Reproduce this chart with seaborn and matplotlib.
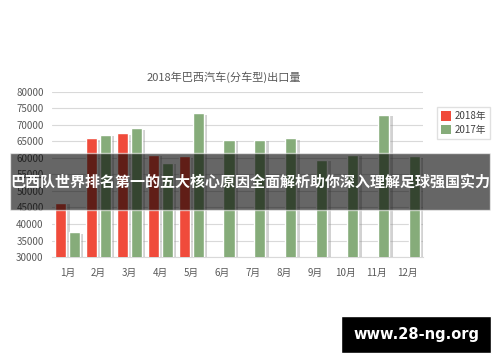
import numpy as np
import pandas as pd
import matplotlib
matplotlib.use("Agg")
import matplotlib.pyplot as plt
import matplotlib.patheffects as pe
from matplotlib.patches import Patch
import seaborn as sns

# data
months = ["1月", "2月", "3月", "4月", "5月", "6月", "7月", "8月", "9月", "10月", "11月", "12月"]
years = ["2018年", "2017年"]
colors = ["#F04B3B", "#86AC7A"]
vals_2018 = [46500, 66000, 67500, 61000, 60500, np.nan, np.nan, np.nan, np.nan, np.nan, np.nan, np.nan]
vals_2017 = [37500, 67000, 69000, 58500, 73500, 65500, 65500, 66000, 59500, 61000, 73000, 60500]
yticks = [30000, 35000, 40000, 45000, 50000, 55000, 60000, 65000, 70000, 75000, 80000]

df = pd.DataFrame({
    "month": months * 2,
    "year": [years[0]] * 12 + [years[1]] * 12,
    "value": vals_2018 + vals_2017,
})

sns.set_style("white")
plt.rcParams["font.family"] = ["Noto Sans CJK SC", "DejaVu Sans"]

fig = plt.figure(figsize=(5, 3.62), dpi=100)
ax = fig.add_axes([0.104, 0.29, 0.742, 0.456])

sns.barplot(data=df, x="month", y="value", hue="year", order=months, hue_order=years,
            palette=colors, width=0.9, gap=0.2, errorbar=None,
            saturation=1, ax=ax, zorder=3, legend=False)

# soft drop shadow like the original chart
for p in ax.patches:
    p.set_path_effects([pe.SimplePatchShadow(offset=(2.5, -1), shadow_rgbFace="#909090", alpha=0.4),
                        pe.Normal()])

ax.set_ylim(30000, 80000)
ax.set_xlim(-0.45, 11.48)
ax.set_yticks(yticks)
ax.set_yticklabels([str(v) for v in yticks])
ax.yaxis.grid(True, color="#D9D9D9", linewidth=0.8, zorder=0)
ax.set_axisbelow(True)
ax.tick_params(axis="both", length=0, labelsize=7, colors="#595959", pad=6)
ax.tick_params(axis="x", pad=8)
ax.set_xticks(np.arange(-0.5, 12, 1), minor=True)
ax.tick_params(axis="x", which="minor", length=3, color="#D9D9D9")
ax.set_xlabel("")
ax.set_ylabel("")
for s in ["top", "right", "left"]:
    ax.spines[s].set_visible(False)
ax.spines["bottom"].set_color("#D9D9D9")

fig.text(0.448, 0.787, "2018年巴西汽车(分车型)出口量", ha="center", va="center",
         fontsize=8, color="#595959")

handles = [Patch(facecolor=c, edgecolor="none") for c in colors]
ax.legend(handles, years, loc="upper left", bbox_to_anchor=(0.864, 0.717),
          bbox_transform=fig.transFigure, fontsize=7, frameon=True, fancybox=False,
          edgecolor="#D9D9D9", handlelength=1.1, handleheight=1.1, handletextpad=0.3,
          borderpad=0.4, labelspacing=0.4, labelcolor="#404040")

# dark banner across the middle
fig.patches.append(plt.Rectangle((0.02, 1 - 210 / 362), 0.96, 57 / 362, transform=fig.transFigure,
                                 facecolor="black", alpha=0.6, zorder=10))
fig.text(0.5, 1 - 182 / 362, "巴西队世界排名第一的五大核心原因全面解析助你深入理解足球强国实力",
         ha="center", va="center", fontsize=10.8, fontweight="bold", color="white", zorder=11)

# site badge bottom right
fig.patches.append(plt.Rectangle((341 / 500, 1 - 353 / 362), 150 / 500, 37 / 362,
                                 transform=fig.transFigure, facecolor="black", zorder=10))
fig.text(416 / 500, 1 - 335 / 362, "www.28-ng.org", ha="center", va="center",
         fontsize=10.5, fontweight="bold", color="white", family="DejaVu Sans", zorder=11)

fig.savefig("out.png", dpi=100)
